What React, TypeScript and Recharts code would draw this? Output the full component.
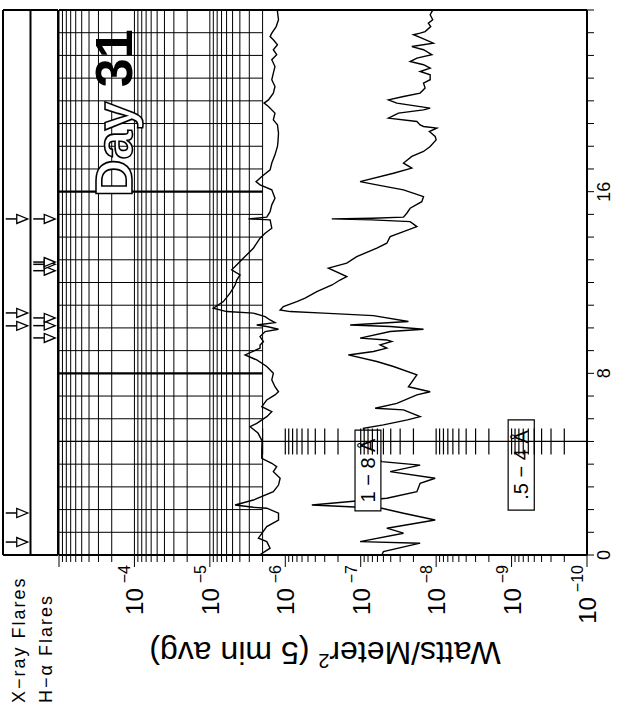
import React from "react";
import {
  ComposedChart,
  Line,
  Scatter,
  XAxis,
  YAxis,
  ReferenceLine,
  ReferenceArea,
} from "recharts";

// The chart is built in its native orientation (time across, flux up)
// and the whole block is then turned 90deg counter-clockwise, like the printed page.
const CHART_W = 711;
const CHART_H = 624;
const FONT = "'Liberation Sans', Arial, sans-serif";

// GOES 1-8 A channel (hours UT, W/m^2)
const longTimes = [
  0, 0.3, 0.59, 0.74, 1.25, 1.54, 1.84, 2.06, 2.1, 2.2, 2.42, 2.79, 3.08, 3.38, 3.67, 3.89, 4.04,
  4.26, 4.63, 5.02, 5.37, 5.65, 5.8, 6.09, 6.31, 6.53, 6.83, 7.05, 7.19, 7.41, 7.71, 8.0, 8.3, 8.59,
  8.81, 9.11, 9.25, 9.4, 9.62, 9.84, 9.94, 10.06, 10.13, 10.23, 10.35, 10.5, 10.65, 10.72, 10.87,
  11.16, 11.53, 11.89, 12.11, 12.33, 12.56, 12.7, 12.92, 13.22, 13.51, 13.73, 13.95, 14.17, 14.39,
  14.76, 14.8, 14.88, 15.12, 15.42, 15.71, 16.08, 16.3, 16.44, 16.67, 16.96, 17.26, 17.62, 17.99,
  18.2, 18.58, 18.94, 19.16, 19.46, 19.75, 19.9, 20.04, 20.34, 20.63, 20.93, 21.22, 21.51, 21.81,
  22.03, 22.25, 22.47, 22.69, 22.83, 22.98, 23.27, 23.57, 23.93, 24,
];
const longFlux = [
  2.2e-6, 1.59e-6, 1.76e-6, 2.27e-6, 1.76e-6, 1.23e-6, 1.23e-6, 1.76e-6, 2.65e-6, 4.63e-6, 2.65e-6,
  1.44e-6, 1.23e-6, 1.17e-6, 1.44e-6, 1.3e-6, 1.51e-6, 2.05e-6, 2.05e-6, 2.03e-6, 2.3e-6, 2.93e-6,
  2.39e-6, 1.76e-6, 1.51e-6, 2.05e-6, 1.76e-6, 1.37e-6, 1.23e-6, 1.37e-6, 1.51e-6, 1.44e-6, 1.76e-6,
  2.39e-6, 3.41e-6, 2.16e-6, 2.16e-6, 1.95e-6, 2.16e-6, 1.85e-6, 1.23e-6, 1.76e-6, 2.39e-6, 1.37e-6,
  1.59e-6, 1.85e-6, 2.65e-6, 5.97e-6, 8.99e-6, 6.62e-6, 5.4e-6, 4.63e-6, 4.4e-6, 3.98e-6, 5.13e-6,
  4.63e-6, 3.98e-6, 3.24e-6, 2.65e-6, 2.39e-6, 2.16e-6, 1.85e-6, 1.51e-6, 1.59e-6, 3.08e-6, 1.76e-6,
  1.59e-6, 1.51e-6, 1.37e-6, 1.51e-6, 2.16e-6, 2.44e-6, 2.05e-6, 1.59e-6, 1.51e-6, 1.37e-6, 1.27e-6,
  1.25e-6, 1.23e-6, 1.27e-6, 1.44e-6, 1.37e-6, 1.67e-6, 1.91e-6, 1.67e-6, 1.44e-6, 1.37e-6, 1.51e-6,
  1.44e-6, 1.37e-6, 1.51e-6, 1.3e-6, 1.44e-6, 1.27e-6, 1.44e-6, 1.59e-6, 1.51e-6, 1.32e-6, 1.23e-6,
  1.27e-6, 1.27e-6,
];

// GOES 0.5-4 A channel
const shortTimes = [
  0, 0.15, 0.52, 0.59, 0.96, 1.18, 1.54, 1.84, 2.06, 2.2, 2.5, 2.79, 3.16, 3.38, 3.67, 3.96, 4.11,
  4.54, 5.07, 5.58, 5.73, 5.95, 6.09, 6.39, 6.46, 6.68, 7.05, 7.19, 7.41, 7.93, 8.3, 8.52, 8.81,
  8.96, 9.11, 9.25, 9.4, 9.47, 9.55, 9.84, 9.94, 10.06, 10.13, 10.28, 10.54, 10.65, 10.72, 10.79,
  10.94, 11.16, 11.31, 11.6, 11.89, 12.11, 12.26, 12.63, 12.85, 13.14, 13.51, 13.73, 14.02, 14.24,
  14.46, 14.68, 14.76, 14.8, 14.83, 14.88, 15.05, 15.27, 15.56, 15.78, 16.08, 16.3, 16.44, 16.81,
  17.04, 17.26, 17.55, 17.77, 17.99, 18.28, 18.43, 18.65, 18.8, 18.87, 18.94, 19.09, 19.24, 19.46,
  19.6, 19.68, 19.9, 20.04, 20.19, 20.34, 20.56, 20.78, 20.93, 21.15, 21.29, 21.44, 21.59, 21.73,
  21.88, 22.03, 22.25, 22.39, 22.54, 22.76, 22.91, 22.98, 23.05, 23.27, 23.42, 23.57, 23.79, 23.93,
  24,
];
const shortFlux = [
  5.25e-8, 5.0e-8, 1.63e-8, 1.02e-7, 2.71e-8, 4.51e-8, 1.03e-8, 2.71e-8, 5.25e-8, 4.45e-7, 4.51e-8,
  1.8e-8, 1.63e-8, 1.03e-8, 4.07e-8, 1.63e-8, 5.25e-8, 7.1e-8, 8.5e-8, 9.2e-8, 5.0e-8, 2.4e-8,
  1.63e-8, 2.71e-8, 6.44e-8, 3.32e-8, 1.8e-8, 1.2e-8, 2.33e-8, 1.8e-8, 3.68e-8, 6.11e-8, 1.46e-7,
  6.78e-8, 4.51e-8, 5.53e-8, 3.87e-8, 4.51e-8, 1.02e-7, 4.07e-8, 1.47e-8, 4.07e-8, 1.38e-7, 2.33e-8,
  6.78e-8, 3.12e-7, 8.63e-7, 1.17e-6, 1.06e-6, 7.04e-7, 5.46e-7, 3.82e-7, 2.4e-7, 1.88e-7, 1.53e-7,
  2.68e-7, 1.53e-7, 1.13e-7, 6.11e-8, 4.51e-8, 4.07e-8, 2.71e-8, 1.8e-8, 2.21e-8, 7.13e-8, 2.42e-7,
  7.13e-8, 2.71e-8, 2.45e-8, 2.21e-8, 1.55e-8, 1.47e-8, 2.71e-8, 6.11e-8, 1.02e-7, 3.68e-8, 2.1e-8,
  2.71e-8, 2.1e-8, 1.47e-8, 1.2e-8, 1.0e-8, 1.03e-8, 1.23e-8, 9.8e-9, 1.47e-8, 1.63e-8, 1.8e-8,
  4.29e-8, 3.16e-8, 1.47e-8, 1.2e-8, 3.32e-8, 4.29e-8, 2.71e-8, 1.63e-8, 1.4e-8, 1.47e-8, 1.2e-8,
  1.2e-8, 1.63e-8, 1.2e-8, 1.47e-8, 2.21e-8, 1.8e-8, 1.14e-8, 1.47e-8, 2.1e-8, 1.09e-8, 1.55e-8,
  2.0e-8, 1.63e-8, 1.4e-8, 1.18e-8, 1.27e-8, 1.11e-8, 1.2e-8, 1.14e-8, 1.1e-8,
];

// flare report times (hours)
const xrayFlareTimes = [0.57, 1.85, 10.09, 10.66, 14.8];
const haFlareTimes = [9.56, 10.1, 10.44, 12.52, 12.8, 12.9, 14.8];

const hourTicks = [
  0, 1, 2, 3, 4, 5, 6, 7, 8, 9, 10, 11, 12, 13, 14, 15, 16, 17, 18, 19, 20, 21, 22, 23, 24,
];
const hourLabels = [0, 8, 16];
const decades = [-10, -9, -8, -7, -6, -5, -4, -3];
const labelledDecades = [-10, -9, -8, -7, -6, -5, -4];
const mantissas = [1, 2, 3, 4, 5, 6, 7, 8, 9];
const calibrationHour = 5;

const fluxTicks = decades
  .flatMap((e) => mantissas.map((m) => Number((m * Math.pow(10, e)).toPrecision(3))))
  .filter((v) => v <= 1e-3);
const gridFlux = fluxTicks.filter((v) => v >= 2e-6);
const calFlux = fluxTicks.filter((v) => v <= 2e-6 && v >= 2e-10);

const longData = longTimes.map((t, i) => ({ t, f: longFlux[i] }));
const shortData = shortTimes.map((t, i) => ({ t, f: shortFlux[i] }));
const calData = calFlux.map((f) => ({ t: calibrationHour, f }));
const flareData = [
  ...xrayFlareTimes.map((t) => ({ t, row: 1.5 })),
  ...haFlareTimes.map((t) => ({ t, row: 0.5 })),
];

const INK = "#000";

function FluxTick(props: any) {
  const { x, y, payload } = props;
  const lg = Math.log10(payload.value);
  const exp = Math.round(lg);
  const major = Math.abs(lg - exp) < 1e-6;
  const labelled = major && labelledDecades.includes(exp);
  return (
    <g>
      <line x1={x} x2={x - (major ? 12 : 7)} y1={y} y2={y} stroke={INK} strokeWidth={1} />
      {labelled && (
        <text x={x - 10} y={y + 9} textAnchor="end" fontSize={24} fill={INK} fontFamily={FONT}>
          10
          <tspan dx={5} dy={-13} fontSize={16}>
            {"\u2212" + Math.abs(exp)}
          </tspan>
        </text>
      )}
    </g>
  );
}

function RowTick(props: any) {
  const { y, payload } = props;
  const label = payload.value > 1 ? "X\u2212ray Flares" : "H\u2212\u03b1 Flares";
  return (
    <text x={8} y={y + 8} fontSize={18} letterSpacing={2} fill={INK} fontFamily={FONT}>
      {label}
    </text>
  );
}

function FlareArrow(props: any) {
  const { cx, cy } = props;
  return (
    <g>
      <line x1={cx} x2={cx} y1={cy - 11} y2={cy} stroke={INK} strokeWidth={1.5} />
      <polygon
        points={`${cx - 4.5},${cy} ${cx + 4.5},${cy} ${cx},${cy + 11}`}
        fill="#fff"
        stroke={INK}
        strokeWidth={1.3}
      />
    </g>
  );
}

function CalTick(props: any) {
  const { cx, cy } = props;
  return <line x1={cx - 13} x2={cx + 13} y1={cy} y2={cy} stroke={INK} strokeWidth={1.2} />;
}

export default function App() {
  return (
    <div
      style={{
        position: "fixed",
        left: 0,
        top: 0,
        width: 624,
        height: 711,
        background: "#fff",
        overflow: "hidden",
      }}
    >
      <div
        style={{
          position: "absolute",
          left: 0,
          top: 0,
          width: CHART_W,
          height: CHART_H,
          transformOrigin: "0 0",
          transform: `translate(0px, ${CHART_W}px) rotate(-90deg)`,
          fontFamily: FONT,
        }}
      >
        {/* flux plot */}
        <div style={{ position: "absolute", left: 0, top: 0 }}>
          <ComposedChart
            width={CHART_W}
            height={CHART_H}
            margin={{ top: 59, right: 10, bottom: 0, left: 0 }}
          >
            <XAxis
              type="number"
              dataKey="t"
              domain={[0, 24]}
              ticks={hourTicks}
              interval={0}
              height={37}
              tickSize={7}
              tickMargin={3}
              tickLine={{ stroke: INK }}
              axisLine={{ stroke: INK, strokeWidth: 2 }}
              tick={{ fontSize: 18, fill: INK, fontFamily: FONT }}
              tickFormatter={(v) => (hourLabels.includes(v) ? String(v) : "")}
              allowDataOverflow
            />
            <YAxis
              type="number"
              scale="log"
              domain={[1e-10, 1e-3]}
              ticks={fluxTicks}
              interval={0}
              width={156}
              tickSize={0}
              tickMargin={0}
              tickLine={false}
              axisLine={{ stroke: INK, strokeWidth: 2 }}
              tick={(p: any) => <FluxTick {...p} />}
              allowDataOverflow
            />
            {gridFlux.map((v) => (
              <ReferenceLine key={"g" + v} y={v} stroke={INK} strokeWidth={1} />
            ))}
            {hourTicks.slice(1, 24).map((h) => (
              <ReferenceLine
                key={"h" + h}
                segment={[
                  { x: h, y: 2e-6 },
                  { x: h, y: 1e-3 },
                ]}
                stroke={INK}
                strokeWidth={h % 8 === 0 ? 2.2 : 1}
              />
            ))}
            <ReferenceLine x={24} stroke={INK} strokeWidth={2} />
            <Line
              data={longData}
              dataKey="f"
              type="linear"
              stroke={INK}
              strokeWidth={1.4}
              dot={false}
              isAnimationActive={false}
            />
            <Line
              data={shortData}
              dataKey="f"
              type="linear"
              stroke={INK}
              strokeWidth={1.4}
              dot={false}
              isAnimationActive={false}
            />
            <ReferenceArea
              x1={1.94}
              x2={5.5}
              y1={5.4e-8}
              y2={1.19e-7}
              fill="#fff"
              fillOpacity={1}
              stroke={INK}
              strokeWidth={1.2}
              zIndex={1000}
              label={{
                value: "1 \u2212 8 \u00c5",
                position: "center",
                fontSize: 20,
                fill: INK,
                fontFamily: FONT,
              }}
            />
            <ReferenceArea
              x1={1.98}
              x2={5.95}
              y1={5.0e-10}
              y2={1.11e-9}
              fill="#fff"
              fillOpacity={1}
              stroke={INK}
              strokeWidth={1.2}
              zIndex={1000}
              label={{
                value: ".5 \u2212 4 \u00c5",
                position: "center",
                fontSize: 20,
                fill: INK,
                fontFamily: FONT,
              }}
            />
            <ReferenceLine x={calibrationHour} stroke={INK} strokeWidth={1.2} zIndex={1100} />
            <Scatter
              data={calData}
              dataKey="f"
              shape={(p: any) => <CalTick {...p} />}
              isAnimationActive={false}
              zIndex={1100}
            />
          </ComposedChart>
        </div>

        {/* flare report strips */}
        <div style={{ position: "absolute", left: 0, top: 0 }}>
          <ComposedChart
            width={CHART_W}
            height={CHART_H}
            margin={{ top: 3, right: 10, bottom: 566, left: 0 }}
          >
            <XAxis type="number" dataKey="t" domain={[0, 24]} hide height={0} />
            <YAxis
              type="number"
              domain={[0, 2]}
              ticks={[0.5, 1.5]}
              width={156}
              tickLine={false}
              axisLine={false}
              tick={(p: any) => <RowTick {...p} />}
            />
            <ReferenceLine y={2} stroke={INK} strokeWidth={2} />
            <ReferenceLine y={1} stroke={INK} strokeWidth={2} />
            <ReferenceLine y={0} stroke={INK} strokeWidth={2} />
            <ReferenceLine x={0} stroke={INK} strokeWidth={2} />
            <ReferenceLine x={24} stroke={INK} strokeWidth={2} />
            <Scatter
              data={flareData}
              dataKey="row"
              shape={(p: any) => <FlareArrow {...p} />}
              isAnimationActive={false}
            />
          </ComposedChart>
        </div>

        {/* titles */}
        <svg
          width={CHART_W}
          height={CHART_H}
          style={{ position: "absolute", left: 0, top: 0, pointerEvents: "none" }}
        >
          <text
            transform="translate(69,325) rotate(-90)"
            textAnchor="middle"
            fontSize={32}
            fill={INK}
            fontFamily={FONT}
          >
            Watts/Meter
            <tspan dy={-12} fontSize={20}>
              2
            </tspan>
            <tspan dy={12}> (5 min avg)</tspan>
          </text>
          <text x={514} y={132} fontSize={52} fontWeight="bold" fontFamily={FONT}>
            <tspan fill="#fff" stroke={INK} strokeWidth={1.6}>
              Day
            </tspan>
            <tspan fill={INK}> 31</tspan>
          </text>
        </svg>
      </div>
    </div>
  );
}
